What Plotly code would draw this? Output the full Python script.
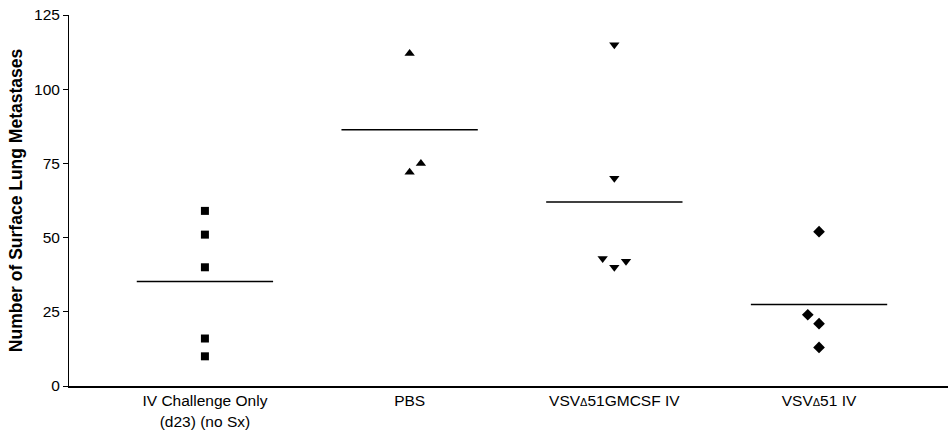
import numpy as np
import plotly.graph_objects as go

categories = ["IV Challenge Only<br>(d23) (no Sx)", "PBS",
              "VSV<span style='font-size:11px'>Δ</span>51GMCSF IV",
              "VSV<span style='font-size:11px'>Δ</span>51 IV"]

g1_vals = [59, 51, 40, 16, 10]
g1_jit = [0, 0, 0, 0, 0]
g2_vals = [112, 75, 72]
g2_jit = [0.0, 0.055, 0.0]
g3_vals = [115, 70, 43, 40, 42]
g3_jit = [0.0, 0.0, -0.057, 0.0, 0.057]
g4_vals = [52, 24, 21, 13]
g4_jit = [0.0, -0.055, 0.0, 0.0]

groups = [g1_vals, g2_vals, g3_vals, g4_vals]
jitters = [g1_jit, g2_jit, g3_jit, g4_jit]
symbols = ["square", "triangle-up", "triangle-down", "diamond"]
sizes = [8, 9, 9, 9]

fig = go.Figure()
for i, (vals, jit) in enumerate(zip(groups, jitters)):
    fig.add_trace(go.Scatter(
        x=[i + j for j in jit], y=vals, mode="markers",
        marker=dict(symbol=symbols[i], size=sizes[i], color="black",
                    line=dict(width=0)),
        showlegend=False, hoverinfo="y"))
    m = float(np.mean(vals))
    fig.add_trace(go.Scatter(
        x=[i - 0.333, i + 0.333], y=[m, m], mode="lines",
        line=dict(color="black", width=1.5), showlegend=False,
        hoverinfo="skip"))

fig.update_layout(
    width=948, height=433,
    margin=dict(l=69, r=0, t=15, b=47),
    paper_bgcolor="white", plot_bgcolor="white",
    font=dict(family="Liberation Sans, Arial, sans-serif", color="black", size=15),
)
fig.update_xaxes(
    range=[-0.664, 3.63], tickvals=[0, 1, 2, 3], ticktext=categories,
    showline=True, linecolor="black", linewidth=1.5, ticks="",
    showgrid=False, zeroline=False, tickfont=dict(size=15.5),
)
fig.update_yaxes(
    range=[0, 125], tickvals=[0, 25, 50, 75, 100, 125],
    showline=True, linecolor="black", linewidth=1, ticks="outside",
    ticklen=5, tickcolor="black", showgrid=False, zeroline=False,
    tickfont=dict(size=15.5),
    title=dict(text="<b>Number of Surface Lung Metastases</b>",
               font=dict(size=17.5), standoff=6),
)

fig.write_html("out.html")
